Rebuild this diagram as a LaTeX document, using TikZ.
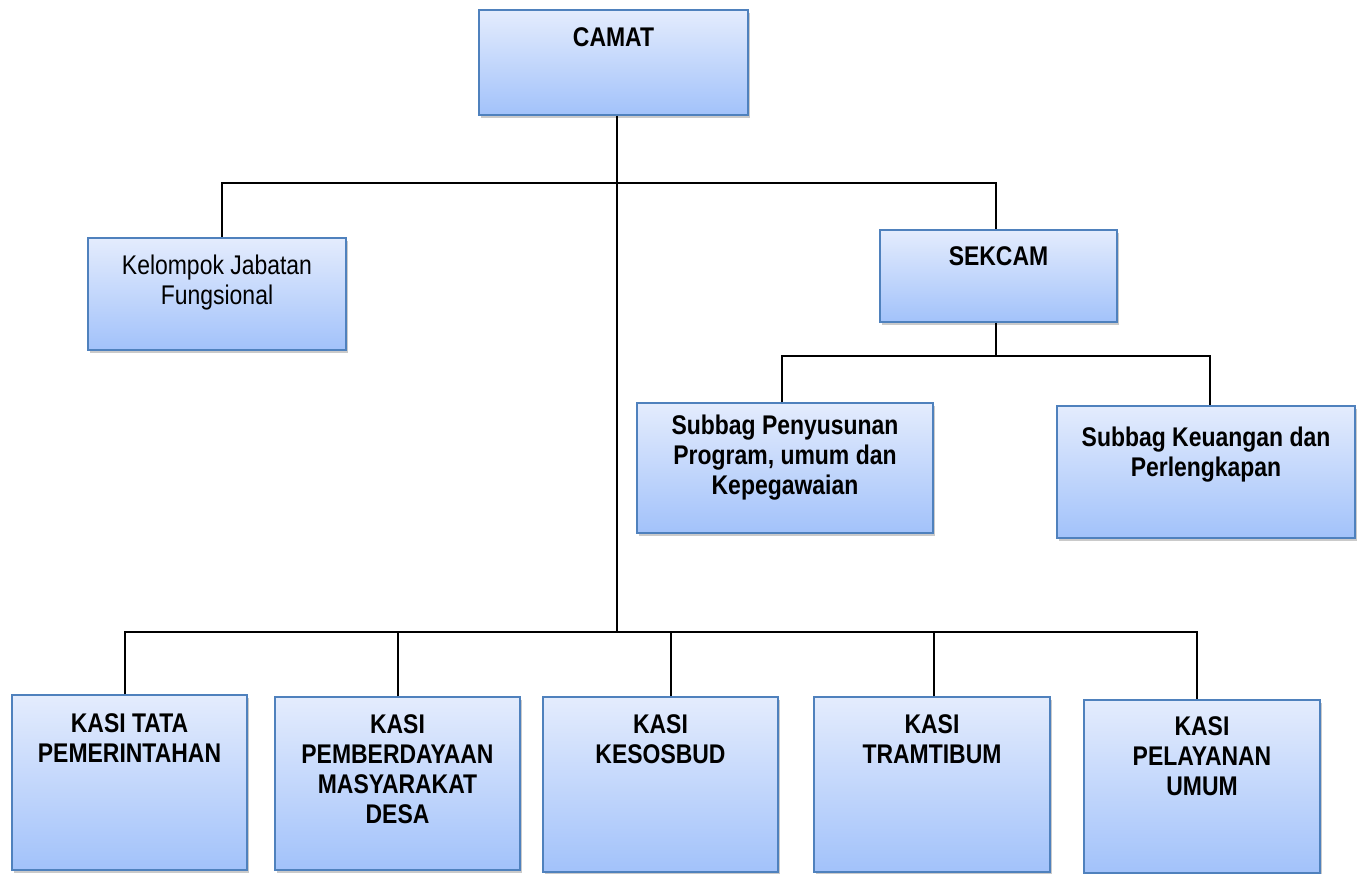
\documentclass[tikz,border=0pt]{standalone}
\usepackage{fontspec}
\setmainfont{Liberation Sans}[FakeStretch=0.85]
\usetikzlibrary{positioning,shadows}
\definecolor{boxline}{RGB}{79,129,189}
\definecolor{boxtop}{RGB}{228,236,253}
\definecolor{boxbot}{RGB}{162,194,250}
\tikzset{
 unit/.style={draw=boxline,line width=1.5pt,top color=boxtop,bottom color=boxbot,
  drop shadow={shadow xshift=2pt,shadow yshift=-3pt,opacity=0.35,fill=black!60},
  inner sep=0,minimum width=#1},
 txt/.style={inner sep=0,anchor=north,align=center,font=\fontsize{27}{30}\selectfont\bfseries},
 link/.style={line width=1.5pt,black}
}
\begin{document}
\begin{tikzpicture}[x=1pt,y=-1pt]
 \useasboundingbox (0,0) rectangle (1359,874);
 % boxes
 \node[unit=269,minimum height=105] (camat) at (613.5,62.5) {};
 \node[unit=258,minimum height=112] (kel) at (217,294) {};
 \node[unit=237,minimum height=92] (sek) at (998.5,276) {};
 \node[unit=296,minimum height=130] (sbp) at (785,468) {};
 \node[unit=298,minimum height=132] (sbk) at (1206,472) {};
 \node[unit=235,minimum height=175] (tata) at (129.5,782.5) {};
 \node[unit=245,minimum height=173] (pem) at (397.5,783.5) {};
 \node[unit=235,minimum height=175] (kes) at (660.5,784.5) {};
 \node[unit=236,minimum height=175] (tram) at (932,784.5) {};
 \node[unit=236,minimum height=173] (pel) at (1202,786.5) {};
 % texts
 \node[txt,below=18pt of camat.north] (camattxt) {CAMAT};
 \node[txt,below=17pt of kel.north,font=\fontsize{27}{30}\selectfont] (keltxt) {Kelompok Jabatan\\Fungsional};
 \node[txt,below=17pt of sek.north] (sektxt) {SEKCAM};
 \node[txt,below=12pt of sbp.north] (sbptxt) {Subbag Penyusunan\\Program, umum dan\\Kepegawaian};
 \node[txt,below=21pt of sbk.north] (sbktxt) {Subbag Keuangan dan\\Perlengkapan};
 \node[txt,below=19pt of tata.north] (tatatxt) {KASI TATA\\PEMERINTAHAN};
 \node[txt,below=18pt of pem.north] (pemtxt) {KASI\\PEMBERDAYAAN\\MASYARAKAT\\DESA};
 \node[txt,below=18pt of kes.north] (kestxt) {KASI\\KESOSBUD};
 \node[txt,below=18pt of tram.north] (tramtxt) {KASI\\TRAMTIBUM};
 \node[txt,below=17pt of pel.north] (peltxt) {KASI\\PELAYANAN\\UMUM};
 % lines
 \coordinate (j1) at (617,183);
 \coordinate (j2) at (617,632);
 \coordinate (j3) at (996,356);
 \draw[link] ([xshift=3.5pt]camat.south) -- (j2);
 \draw[link] ([xshift=5pt]kel.north) |- (j1) -| ([xshift=-2.5pt]sek.north);
 \draw[link] ([xshift=-2.5pt]sek.south) -- (j3);
 \draw[link] ([xshift=-3pt]sbp.north) |- (j3) -| ([xshift=4pt]sbk.north);
 \draw[link] ([xshift=-4.5pt]tata.north) |- (j2) -| ([xshift=-5pt]pel.north);
 \draw[link] ([xshift=0.5pt]pem.north) -- ([xshift=0.5pt]pem.north |- j2);
 \draw[link] ([xshift=10.5pt]kes.north) -- ([xshift=10.5pt]kes.north |- j2);
 \draw[link] ([xshift=2pt]tram.north) -- ([xshift=2pt]tram.north |- j2);
\end{tikzpicture}
\end{document}
